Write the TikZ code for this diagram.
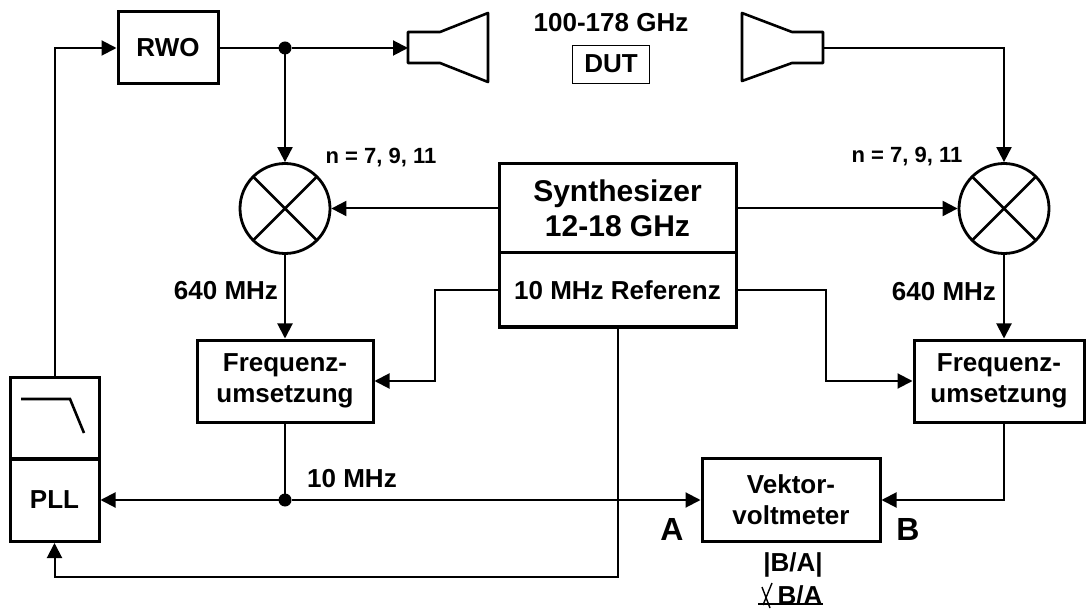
\documentclass[tikz,border=0pt]{standalone}
\usepackage{fontspec}
\setmainfont{Liberation Sans}
\usetikzlibrary{arrows.meta}
\tikzset{
  txt/.style={inner sep=0pt,align=center,font=\fontsize{26}{31}\selectfont\bfseries},
  smalltxt/.style={txt,font=\fontsize{22}{26}\selectfont\bfseries},
  bigtxt/.style={txt,font=\fontsize{32}{38}\selectfont\bfseries},
  block/.style={txt,draw,line width=3pt,inner sep=0pt},
  mixer/.style={circle,draw,line width=2.8pt,inner sep=0pt,minimum size=90pt,
    path picture={\draw[line width=2.6pt]
      (path picture bounding box.north west) -- (path picture bounding box.south east)
      (path picture bounding box.north east) -- (path picture bounding box.south west);}},
  junction/.style={circle,fill,inner sep=0pt,outer sep=0pt,minimum size=13pt}
}
\begin{document}
\begin{tikzpicture}[x=1pt,y=-1pt,line width=2pt,>={Triangle[length=15pt,width=15pt]}]
    \useasboundingbox (0,0) rectangle (1086,609);
    %% Draw the blocks
    \node[block,minimum width=100pt,minimum height=72pt] (RWO) at (168,48) {RWO};
    \node[block,minimum width=237pt,minimum height=89pt,font=\fontsize{30}{35}\selectfont\bfseries] (Synth) at (617.5,208.5) {Synthesizer\\12-18 GHz};
    \node[block,minimum width=237pt,minimum height=74pt] (Ref) at (617.5,290) {10 MHz Referenz};
    \node[block,minimum width=176pt,minimum height=82pt] (FreqL) at (285,381) {Frequenz-\\umsetzung};
    \node[block,minimum width=170pt,minimum height=82pt] (FreqR) at (999,381) {Frequenz-\\umsetzung};
    \node[block,minimum width=178pt,minimum height=83pt] (Volt) at (791,500) {Vektor-\\voltmeter};
    \node[block,minimum width=89pt,minimum height=82pt] (Lowpass) at (54.5,418) {};
    \node[block,minimum width=89pt,minimum height=83pt] (PLL) at (54.5,500) {PLL};
    \node[draw,txt,line width=.8pt,minimum width=77pt,minimum height=38pt] (DUT) at (611,64) {DUT};
    %% Draw the mixers
    \node[mixer] (MixL) at (285,208.5) {};
    \node[mixer] (MixR) at (1004,208.5) {};
    %% Draw the junctions
    \node[junction] (JTop) at (285,48) {};
    \node[junction] (JBot) at (285,500) {};
    %% Draw the horns
    \draw[line width=2.6pt,line join=round] (408,32) -- (440,32) -- (488,13) -- (488,82) -- (440,63) -- (408,63) -- cycle;
    \draw[line width=2.6pt,line join=round] (823,32) -- (792,32) -- (742,13) -- (742,81) -- (792,63) -- (823,63) -- cycle;
    \coordinate (HornL) at (408,48);
    \coordinate (HornR) at (823,48);
    %% Draw the low pass curve
    \draw[line width=2.6pt] (21,399) -- (70,399) -- (84,433);
    %% Draw the labels
    \node[txt] (Band) at (611,23) {100-178 GHz};
    \node[smalltxt] (NL) at (381,158) {n = 7, 9, 11};
    \node[smalltxt] (NR) at (907,157) {n = 7, 9, 11};
    \node[txt] (IfL) at (226,291) {640 MHz};
    \node[txt] (IfR) at (944,292) {640 MHz};
    \node[txt] (Ten) at (352,479) {10 MHz};
    \node[bigtxt] (PortA) at (672,529) {A};
    \node[bigtxt] (PortB) at (908,529) {B};
    \node[txt] (Mag) at (793,565) {|B/A|};
    \node[txt] (Phase) at (800,595) {B/A};
    %% Draw the angle sign and its underline
    \draw[line width=1.4pt] (772,583) -- (763,605) (762,587) -- (770,608);
    \draw[line width=1.6pt] (758,604) -- (823,604);
    %% Draw the plain lines
    \draw (RWO.east) -- (JTop);
    \draw (FreqL.south) -- (JBot);
    %% Draw the edges
    \begin{scope}[every path/.style={->}]
      \draw (Lowpass.north) |- (RWO.west);
      \draw (JTop) -- (HornL);
      \draw (JTop) -- (MixL.north);
      \draw (HornR) -| (MixR.north);
      \draw (Synth.west) -- (MixL.east);
      \draw (Synth.east) -- (MixR.west);
      \draw (MixL.south) -- (FreqL.north);
      \draw (MixR.south) -- (MixR.south |- FreqR.north);
      \draw (Ref.west) -- ++(-63,0) |- (FreqL.east);
      \draw (Ref.east) -- ++(88,0) |- (FreqR.west);
      \draw (JBot) -- (PLL.east);
      \draw (JBot) -- (Volt.west);
      \draw (MixR.south |- FreqR.south) |- (Volt.east);
      \draw (Ref.south) -- ++(0,248) -| (PLL.south);
    \end{scope}
  \end{tikzpicture}
\end{document}
